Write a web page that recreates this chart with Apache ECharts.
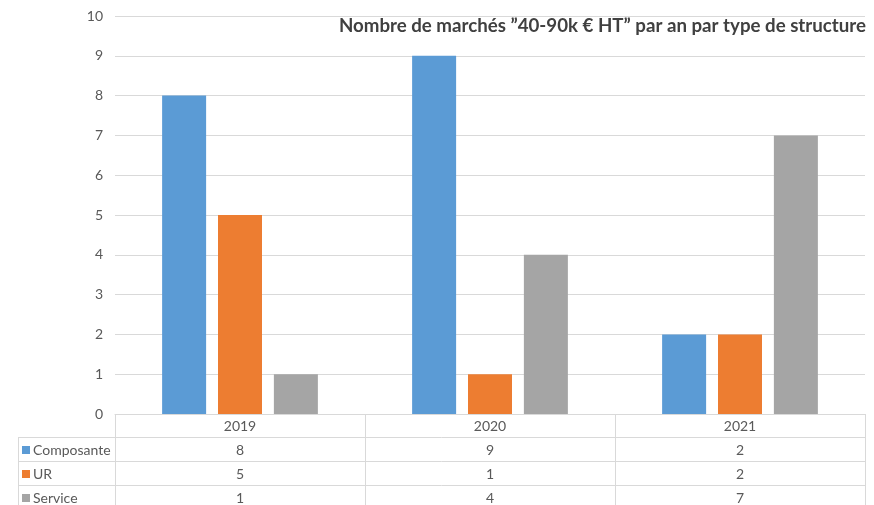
<!DOCTYPE html>
<html>
<head>
<meta charset="utf-8">
<script src="https://cdn.jsdelivr.net/npm/echarts@6/dist/echarts.min.js"></script>
<style>
html, body { margin: 0; padding: 0; background: #fff; }
#chart { width: 874px; height: 505px; }
</style>
</head>
<body>
<div id="chart"></div>
<script>
var years = ['2019', '2020', '2021'];
var composante = [8, 9, 2];
var ur = [5, 1, 2];
var service = [1, 4, 7];
var seriesNames = ['Composante', 'UR', 'Service'];

var font = 'Lato';
var lineCol = '#d9d9d9';

// table rows under the axis: year, then one value per series
function cellText(value, idx) {
	return [value, composante[idx], ur[idx], service[idx]].join('\n');
}

var table_lines = [];
function hline(x1, x2, y) {
	table_lines.push({ type: 'line', shape: { x1: x1, y1: y, x2: x2, y2: y }, style: { stroke: lineCol, lineWidth: 1 }, silent: true });
}
function vline(x, y1, y2) {
	table_lines.push({ type: 'line', shape: { x1: x, y1: y1, x2: x, y2: y2 }, style: { stroke: lineCol, lineWidth: 1 }, silent: true });
}
hline(18.5, 865, 437.5);
hline(18.5, 865, 461.5);
hline(18.5, 865, 485.5);
vline(18.5, 437, 505);

var option = {
	color: ['#5b9bd5', '#ed7d31', '#a5a5a5'],
	title: {
		text: 'Nombre de marchés \u201D40-90k € HT\u201D par an par type de structure',
		right: 3,
		top: 11,
		textStyle: { fontFamily: font, fontSize: 18.7, fontWeight: 'bold', color: '#404040' }
	},
	legend: {
		data: seriesNames,
		orient: 'vertical',
		left: 22,
		top: 438,
		height: 80,
		itemWidth: 8,
		itemHeight: 8,
		itemGap: 0,
		padding: 0,
		icon: 'rect',
		textStyle: { fontFamily: font, fontSize: 14, color: '#595959', lineHeight: 24, padding: [0, 0, 0, -2] }
	},
	grid: { left: 115, right: 9, top: 16, bottom: 91, outerBoundsMode: 'none' },
	xAxis: {
		type: 'category',
		data: years,
		axisLine: { lineStyle: { color: lineCol } },
		axisTick: { show: true, length: 91, inside: false, lineStyle: { color: lineCol } },
		axisLabel: {
			margin: 0,
			formatter: cellText,
			fontFamily: font,
			fontSize: 14,
			color: '#595959',
			lineHeight: 24
		}
	},
	yAxis: {
		type: 'value',
		min: 0,
		max: 10,
		interval: 1,
		axisLabel: { fontFamily: font, fontSize: 14, color: '#595959', margin: 12 },
		splitLine: { lineStyle: { color: lineCol } }
	},
	graphic: table_lines,
	series: [
		{ name: 'Composante', type: 'bar', data: composante, barWidth: 44, barGap: '27%' },
		{ name: 'UR', type: 'bar', data: ur, barWidth: 44, barGap: '27%' },
		{ name: 'Service', type: 'bar', data: service, barWidth: 44, barGap: '27%' }
	]
};

var myChart = echarts.init(document.getElementById('chart'));
myChart.setOption(option);
</script>
</body>
</html>
